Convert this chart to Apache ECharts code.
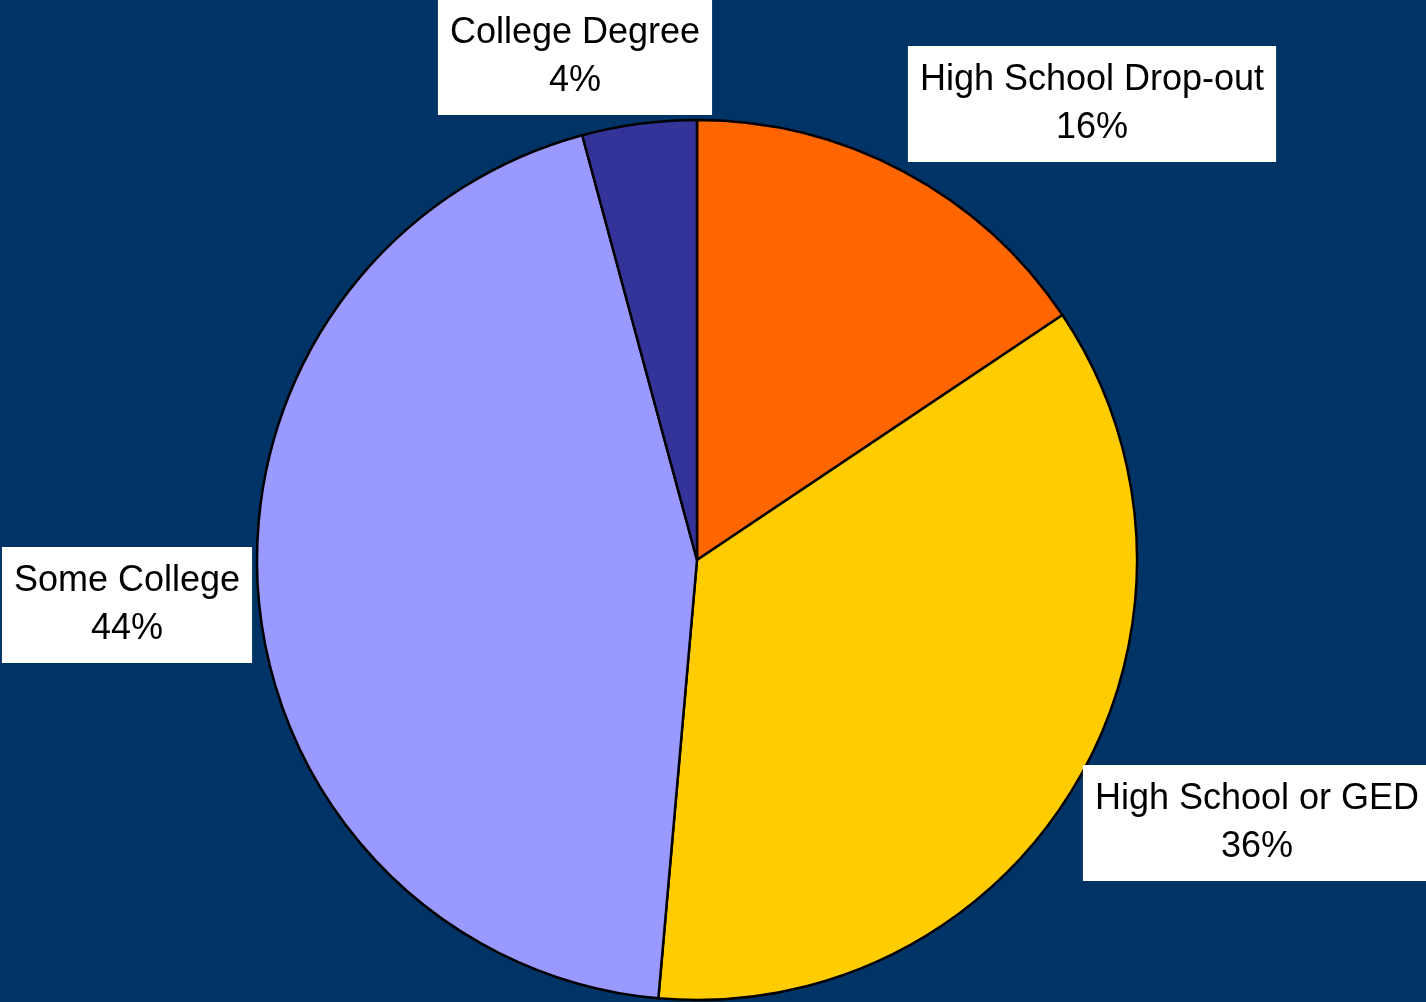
<!DOCTYPE html>
<html>
<head>
<meta charset="utf-8">
<script src="https://cdn.jsdelivr.net/npm/echarts@6/dist/echarts.min.js"></script>
<style>
html,body{margin:0;padding:0;background:#003366;}
#chart{width:1426px;height:1002px;}
</style>
</head>
<body>
<div id="chart"></div>
<script>
const categories = ["High School Drop-out", "High School or GED", "Some College", "College Degree"];
const values = [15.6, 35.8, 44.4, 4.2];
const colors = ["#FF6600", "#FFCC00", "#9999FF", "#333399"];

// label centre positions (layout only)
const labelPos = [[1092, 104], [1257, 823], [127, 605], [575, 57]];

const chart = echarts.init(document.getElementById('chart'));
chart.setOption({
  backgroundColor: '#003366',
  animation: false,
  series: [{
    type: 'pie',
    center: [697, 560],
    radius: 440,
    startAngle: 90,
    clockwise: true,
    data: categories.map((c, i) => ({ name: c, value: values[i], itemStyle: { color: colors[i] } })),
    itemStyle: { borderColor: '#000', borderWidth: 2.5 },
    label: {
      show: true,
      position: 'inside',
      formatter: p => p.name + '\n' + Math.round(p.percent) + '%',
      backgroundColor: '#fff',
      color: '#000',
      fontFamily: 'Liberation Sans, Arial, sans-serif',
      fontSize: 36,
      lineHeight: 48,
      padding: [4, 12, 16, 12],
      align: 'center',
      overflow: 'none'
    },
    labelLine: { show: false },
    labelLayout: function (params) {
      const pos = labelPos[params.dataIndex];
      return { x: pos[0], y: pos[1], align: 'center', verticalAlign: 'middle', hideOverlap: false, moveOverlap: null };
    },
    emphasis: { disabled: true }
  }]
});
</script>
</body>
</html>
